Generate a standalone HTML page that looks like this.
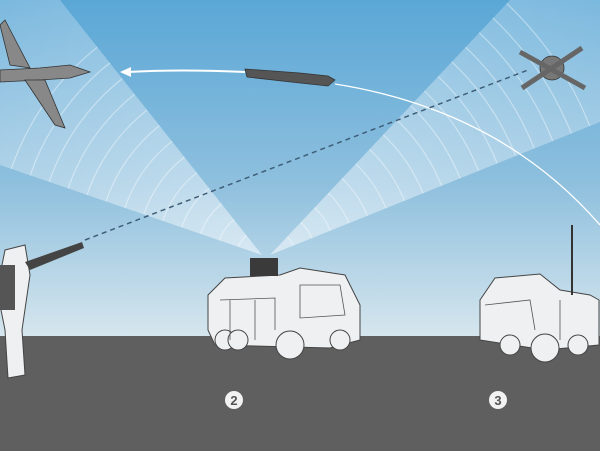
<!DOCTYPE html>
<html><head><style>html,body{margin:0;padding:0;width:600px;height:451px;overflow:hidden}svg{display:block}</style></head><body>
<svg width="600" height="451" viewBox="0 0 600 451" xmlns="http://www.w3.org/2000/svg" font-family="Liberation Sans, sans-serif">
<defs>
<linearGradient id="sky" x1="0" y1="0" x2="0" y2="1">
<stop offset="0" stop-color="#5aa7d6"/><stop offset="0.55" stop-color="#8fc0de"/><stop offset="1" stop-color="#d6e6ee"/>
</linearGradient>
<linearGradient id="beamL" x1="1" y1="1" x2="0" y2="0"><stop offset="0" stop-color="#fff" stop-opacity="0.5"/><stop offset="1" stop-color="#fff" stop-opacity="0.2"/></linearGradient>
<linearGradient id="beamR" x1="0" y1="1" x2="1" y2="0"><stop offset="0" stop-color="#fff" stop-opacity="0.5"/><stop offset="1" stop-color="#fff" stop-opacity="0.2"/></linearGradient>
</defs>
<rect width="600" height="336" fill="url(#sky)"/>
<rect y="336" width="600" height="115" fill="#5f5f5f"/>
<polygon points="262,255 0,165 0,0 60,0" fill="url(#beamL)"/>
<polygon points="270,255 510,0 600,0 600,122" fill="url(#beamR)"/>
<g fill="none" stroke="#fff" stroke-opacity="0.4" stroke-width="1.2">
<path d="M238.4,246.9 A25 25 0 0 1 246.5,235.4"/>
<path d="M219.4,240.4 A45 45 0 0 1 234.1,219.7"/>
<path d="M200.5,233.9 A65 65 0 0 1 221.6,204.0"/>
<path d="M181.6,227.4 A85 85 0 0 1 209.2,188.4"/>
<path d="M162.7,220.9 A105 105 0 0 1 196.8,172.7"/>
<path d="M143.8,214.4 A125 125 0 0 1 184.4,157.0"/>
<path d="M124.8,207.9 A145 145 0 0 1 172.0,141.3"/>
<path d="M105.9,201.4 A165 165 0 0 1 159.5,125.6"/>
<path d="M87.0,194.9 A185 185 0 0 1 147.1,110.0"/>
<path d="M68.1,188.4 A205 205 0 0 1 134.7,94.3"/>
<path d="M49.2,181.9 A225 225 0 0 1 122.3,78.6"/>
<path d="M30.2,175.4 A245 245 0 0 1 109.9,62.9"/>
<path d="M11.3,168.9 A265 265 0 0 1 97.4,47.2"/>
<path d="M287.2,236.8 A25 25 0 0 1 293.2,245.7"/>
<path d="M300.9,222.2 A45 45 0 0 1 311.7,238.2"/>
<path d="M314.6,207.6 A65 65 0 0 1 330.3,230.7"/>
<path d="M328.3,193.0 A85 85 0 0 1 348.8,223.2"/>
<path d="M342.0,178.5 A105 105 0 0 1 367.3,215.7"/>
<path d="M355.8,163.9 A125 125 0 0 1 385.9,208.3"/>
<path d="M369.5,149.3 A145 145 0 0 1 404.4,200.8"/>
<path d="M383.2,134.7 A165 165 0 0 1 423.0,193.3"/>
<path d="M396.9,120.1 A185 185 0 0 1 441.5,185.8"/>
<path d="M410.6,105.6 A205 205 0 0 1 460.0,178.3"/>
<path d="M424.4,91.0 A225 225 0 0 1 478.6,170.9"/>
<path d="M438.1,76.4 A245 245 0 0 1 497.1,163.4"/>
<path d="M451.8,61.8 A265 265 0 0 1 515.7,155.9"/>
<path d="M465.5,47.2 A285 285 0 0 1 534.2,148.4"/>
<path d="M479.2,32.7 A305 305 0 0 1 552.7,140.9"/>
<path d="M493.0,18.1 A325 325 0 0 1 571.3,133.5"/>
<path d="M506.7,3.5 A345 345 0 0 1 589.8,126.0"/>
</g>
<path d="M335,84 Q500,110 600,225" fill="none" stroke="#fff" stroke-width="1.3"/>
<path d="M245,72 Q180,69 128,72" fill="none" stroke="#fff" stroke-width="2"/>
<polygon points="120,72 131,67 131,77" fill="#fff"/>
<line x1="85" y1="240" x2="528" y2="70" stroke="#3f5f78" stroke-width="1.5" stroke-dasharray="5,4"/>
<g fill="#555" stroke="#333" stroke-width="0.8">
<path d="M245,69 L300,73 L328,76 L335,80 L328,86 L300,83 L247,77 Z"/>
<path d="M0,70 L40,68 L70,65 L90,72 L70,78 L40,80 L0,82 Z" fill="#888"/>
<path d="M0,25 L10,65 L30,68 L5,20 Z" fill="#888"/>
<path d="M25,80 L55,125 L65,128 L45,80 Z" fill="#888"/>
<circle cx="552" cy="68" r="12" fill="#777"/>
<path d="M520,52 L585,88 M522,88 L582,48" stroke="#666" stroke-width="5"/>
</g>
<g fill="#eef0f1" stroke="#444" stroke-width="1">
<path d="M208,295 L225,278 L280,275 L300,268 L345,275 L360,305 L360,340 L330,348 L215,345 L208,330 Z"/>
<circle cx="290" cy="345" r="14"/><circle cx="225" cy="340" r="10"/><circle cx="238" cy="340" r="10"/><circle cx="340" cy="340" r="10"/>
<path d="M480,300 L495,278 L540,274 L560,290 L590,295 L599,300 L599,345 L545,350 L480,340 Z"/>
<circle cx="545" cy="348" r="14"/><circle cx="510" cy="345" r="10"/><circle cx="578" cy="345" r="10"/>
<path d="M5,250 L25,245 L30,275 L22,330 L25,375 L8,378 L5,330 L1,310 L1,270 Z"/>
</g>
<g fill="none" stroke="#555" stroke-width="0.8">
<path d="M220,300 L275,298 L275,330 M300,285 L340,285 L345,315 L300,318 Z M230,300 L230,340 M255,300 L255,340"/>
<path d="M485,305 L530,300 L535,330 M560,300 L560,340"/>
</g>
<rect x="250" y="258" width="28" height="18" fill="#3a3a3a"/>
<line x1="572" y1="225" x2="572" y2="295" stroke="#333" stroke-width="2"/>
<path d="M25,262 L82,242 L84,248 L30,270 Z" fill="#444"/>
<rect x="0" y="265" width="15" height="45" fill="#555"/>
<circle cx="234" cy="400" r="9" fill="#f2f2f2"/><text x="234" y="405" text-anchor="middle" font-size="13" font-weight="bold" fill="#555">2</text>
<circle cx="498" cy="400" r="9" fill="#f2f2f2"/><text x="498" y="405" text-anchor="middle" font-size="13" font-weight="bold" fill="#555">3</text>
</svg>
</body></html>
